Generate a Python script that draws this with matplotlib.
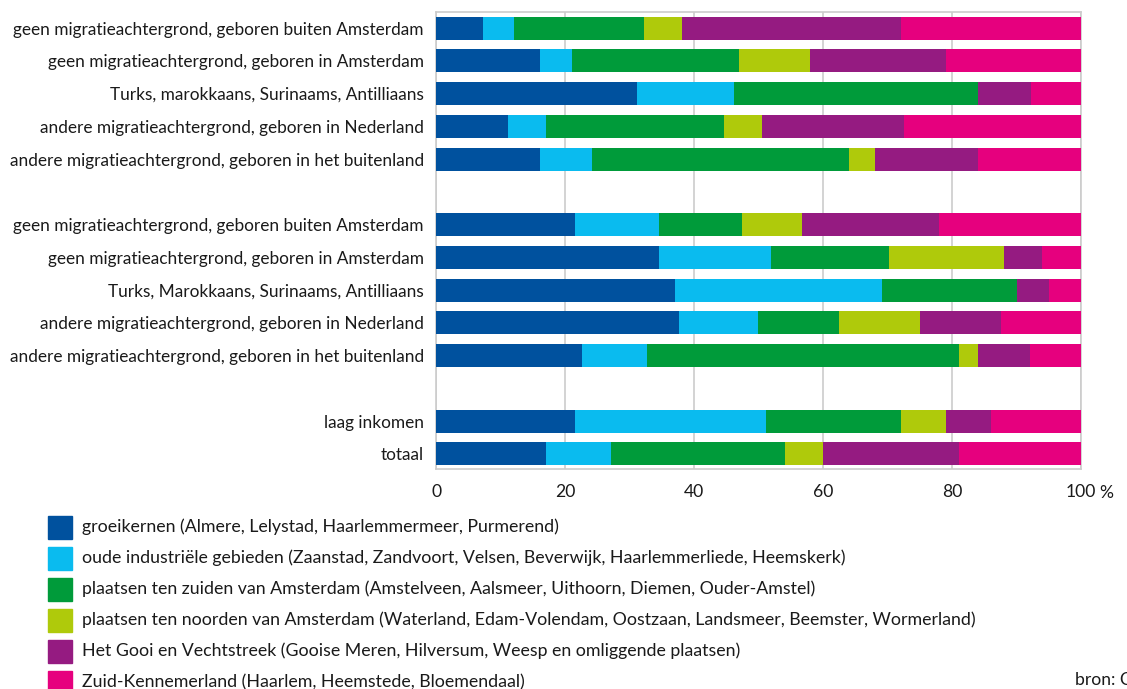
import matplotlib
matplotlib.use("Agg")
import matplotlib.pyplot as plt
import numpy as np

plt.rcParams["font.family"] = ["Lato", "DejaVu Sans"]

# ---------------------------------------------------------------------------
# Data (percentages per row)
# ---------------------------------------------------------------------------
row_labels = [
    "geen migratieachtergrond, geboren buiten Amsterdam",
    "geen migratieachtergrond, geboren in Amsterdam",
    "Turks, marokkaans, Surinaams, Antilliaans",
    "andere migratieachtergrond, geboren in Nederland",
    "andere migratieachtergrond, geboren in het buitenland",
    "geen migratieachtergrond, geboren buiten Amsterdam",
    "geen migratieachtergrond, geboren in Amsterdam",
    "Turks, Marokkaans, Surinaams, Antilliaans",
    "andere migratieachtergrond, geboren in Nederland",
    "andere migratieachtergrond, geboren in het buitenland",
    "laag inkomen",
    "totaal",
]
row_slots = [0, 1, 2, 3, 4, 6, 7, 8, 9, 10, 12, 13]

groeikernen = [7.2, 16.1, 31.2, 11.1, 16.1, 21.5, 34.5, 37.0, 37.6, 22.6, 21.5, 17.1]
oude_industrie = [4.9, 4.9, 15.0, 6.0, 8.0, 13.0, 17.5, 32.1, 12.4, 10.1, 29.6, 10.0]
zuid_amsterdam = [20.1, 26.0, 37.9, 27.5, 40.0, 13.0, 18.2, 21.0, 12.5, 48.4, 21.0, 27.0]
noord_amsterdam = [5.9, 11.0, 0.0, 6.0, 4.0, 9.2, 17.9, 0.0, 12.6, 2.9, 7.0, 5.9]
gooi_vecht = [34.0, 21.1, 8.1, 22.0, 15.9, 21.3, 5.9, 4.9, 12.5, 8.1, 6.9, 21.1]
zuid_kennemerland = [27.9, 20.9, 7.9, 27.4, 16.0, 22.0, 6.0, 5.0, 12.4, 7.9, 14.0, 18.9]

series_labels = [
    "groeikernen (Almere, Lelystad, Haarlemmermeer, Purmerend)",
    "oude industriële gebieden (Zaanstad, Zandvoort, Velsen, Beverwijk, Haarlemmerliede, Heemskerk)",
    "plaatsen ten zuiden van Amsterdam (Amstelveen, Aalsmeer, Uithoorn, Diemen, Ouder-Amstel)",
    "plaatsen ten noorden van Amsterdam (Waterland, Edam-Volendam, Oostzaan, Landsmeer, Beemster, Wormerland)",
    "Het Gooi en Vechtstreek (Gooise Meren, Hilversum, Weesp en omliggende plaatsen)",
    "Zuid-Kennemerland (Haarlem, Heemstede, Bloemendaal)",
]
series_colors = ["#00519E", "#0ABBEF", "#009B3A", "#AFCA0B", "#951B81", "#E6007E"]

x_ticks = [0, 20, 40, 60, 80, 100]

# ---------------------------------------------------------------------------
# Plot
# ---------------------------------------------------------------------------
fig = plt.figure(figsize=(11.27, 6.89), dpi=100)
ax = fig.add_axes([0.387, 0.319, 0.572, 0.664])

series = [groeikernen, oude_industrie, zuid_amsterdam, noord_amsterdam,
          gooi_vecht, zuid_kennemerland]
left = np.zeros(len(row_slots))
for vals, color in zip(series, series_colors):
    vals = np.array(vals)
    ax.barh(row_slots, vals, left=left, height=0.70, color=color,
            linewidth=0, zorder=3)
    left += vals

ax.set_xlim(0, 100)
ax.set_ylim(13.47, -0.5)
ax.set_yticks(row_slots)
ax.set_yticklabels(row_labels, fontsize=12.4, color="#1a1a1a")
ax.set_xticks(x_ticks)
ax.set_xticklabels([str(t) for t in x_ticks], fontsize=12.6, color="#1a1a1a")
ax.tick_params(length=0, pad=9)
ax.tick_params(axis="x", pad=11)
ax.grid(True, axis="x", color="#cccccc", linewidth=1.2, zorder=0)
for s in ax.spines.values():
    s.set_color("#cccccc")
    s.set_linewidth(1.2)
ax.text(1.028, -0.052, "%", transform=ax.transAxes, fontsize=12.6,
        color="#1a1a1a", ha="left", va="center")

# Legend with square patches
leg_x = 48 / 1127
leg_w = 24 / 1127
leg_h = 23 / 689
for i, (label, color) in enumerate(zip(series_labels, series_colors)):
    yc = 1 - (527 + i * 31.0) / 689
    fig.patches.append(plt.Rectangle((leg_x, yc - leg_h / 2), leg_w, leg_h,
                                     transform=fig.transFigure, color=color))
    fig.text(82 / 1127, yc, label, fontsize=12.8, color="#1a1a1a",
             ha="left", va="center")

# source note, cut off by the right edge as in the original
fig.text(1075 / 1127, 1 - 680 / 689, "bron: CBS", fontsize=12.6,
         color="#1a1a1a", ha="left", va="center")

fig.savefig("out.png", dpi=100)
